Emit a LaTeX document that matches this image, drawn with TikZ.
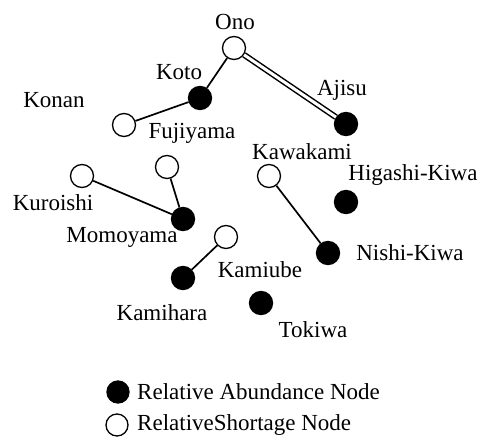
\documentclass[tikz,border=0pt]{standalone}
\usepackage{fontspec}
\setmainfont{Liberation Serif}
\begin{document}
\begin{tikzpicture}[x=1pt,y=-1pt,
  ab/.style={circle,fill=black,draw=black,line width=1.3pt,minimum size=23pt,inner sep=0pt},
  sh/.style={circle,fill=white,draw=black,line width=1.3pt,minimum size=23pt,inner sep=0pt},
  lbl/.style={font=\fontsize{23}{25}\selectfont,inner sep=0pt,text=black},
  link/.style={line width=1.7pt,black},
  dlink/.style={line width=1.5pt,black,double=white,double distance=3pt}]
\useasboundingbox (0,0) rectangle (487,447);
% nodes
\node[sh] (ono) at (234,48) {};
\node[ab] (koto) at (200,98) {};
\node[sh] (fuji) at (124,125) {};
\node[ab] (ajisu) at (346,124) {};
\node[sh] (kuro) at (82,176) {};
\node[sh] (upper) at (167,167) {};
\node[ab] (momo) at (183,219) {};
\node[sh] (kamiube) at (226,237) {};
\node[ab] (kamihara) at (183,278) {};
\node[sh] (kawa) at (269,176) {};
\node[ab] (higashi) at (346,202) {};
\node[ab] (nishi) at (328,253) {};
\node[ab] (tokiwa) at (261,303) {};
% links
\draw[link] (ono) -- (koto);
\draw[link] (koto) -- (fuji);
\draw[dlink] (ono) -- (ajisu);
\draw[link] (kuro) -- (momo);
\draw[link] (upper) -- (momo);
\draw[link] (kamiube) -- (kamihara);
\draw[link] (kawa) -- (nishi);
% labels
\node[lbl] (lono) at (235,22) {Ono};
\node[lbl] (lkoto) at (179,72) {Koto};
\node[lbl] (lajisu) at (342,90) {Ajisu};
\node[lbl] (lkonan) at (54,100) {Konan};
\node[lbl] (lfuji) at (192,133) {Fujiyama};
\node[lbl] (lkawa) at (302,152) {Kawakami};
\node[lbl] (lhigashi) at (413,175) {Higashi-Kiwa};
\node[lbl] (lkuro) at (53,203) {Kuroishi};
\node[lbl] (lmomo) at (122,237) {Momoyama};
\node[lbl] (lnishi) at (410,253) {Nishi-Kiwa};
\node[lbl] (lkamiube) at (260,270) {Kamiube};
\node[lbl] (lkamihara) at (162,313) {Kamihara};
\node[lbl] (ltokiwa) at (313,330) {Tokiwa};
% legend
\node[ab,minimum size=22pt] (legab) at (118,392) {};
\node[sh,minimum size=22pt] (legsh) at (117,425) {};
\node[lbl,anchor=west] (legabt) at (137,392) {Relative Abundance Node};
\node[lbl,anchor=west] (legsht) at (137,425) {RelativeShortage Node};
\end{tikzpicture}
\end{document}
